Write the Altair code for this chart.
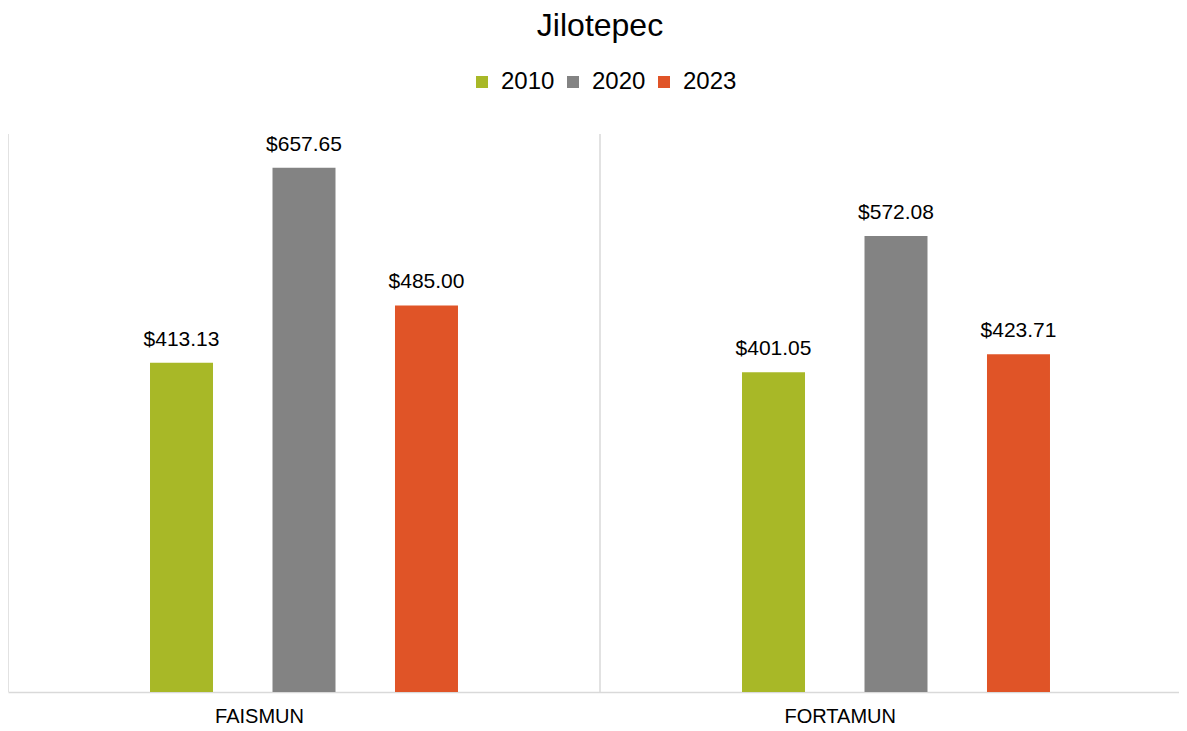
import altair as alt
import pandas as pd

categories = ["FAISMUN", "FORTAMUN"]
years = ["2010", "2020", "2023"]
values_2010 = [413.13, 401.05]
values_2020 = [657.65, 572.08]
values_2023 = [485.00, 423.71]
colors = ["#A8B827", "#838383", "#E05427"]

rows = []
for i, c in enumerate(categories):
    for y, vals in zip(years, [values_2010, values_2020, values_2023]):
        rows.append({"cat": c, "year": y, "value": vals[i]})
df = pd.DataFrame(rows)
cat_df = pd.DataFrame({"cat": categories})

W = 1184
H = 558
FONT = "Liberation Sans"
LINE = "#D9D9D9"

x_enc = alt.X("cat:N", sort=categories,
              scale=alt.Scale(paddingInner=0, paddingOuter=0),
              axis=alt.Axis(title=None, labelAngle=0, labelFontSize=20, labelColor="#000000",
                            labelFont=FONT, ticks=False, labelPadding=24,
                            domainColor=LINE, domainWidth=1.5, grid=False))
xoff = alt.XOffset("year:N", sort=years,
                   scale=alt.Scale(paddingInner=0.167, paddingOuter=1))
y_enc = alt.Y("value:Q", scale=alt.Scale(domain=[0, 700]), axis=None)

bars = alt.Chart(df).mark_bar(width=63).encode(
    x=x_enc, xOffset=xoff, y=y_enc,
    color=alt.Color("year:N", sort=years,
                    scale=alt.Scale(domain=years, range=colors),
                    legend=alt.Legend(title=None, orient="none", direction="horizontal",
                                      legendX=462, legendY=-64,
                                      symbolType="square", symbolSize=144, symbolStrokeWidth=0,
                                      labelFontSize=24, labelFont=FONT, labelColor="#000000",
                                      labelOffset=7, columnPadding=6)),
)

labels = alt.Chart(df).mark_text(baseline="alphabetic", dy=-17, fontSize=21, font=FONT,
                                 color="#000000").encode(
    x=alt.X("cat:N", sort=categories), xOffset=alt.XOffset("year:N", sort=years),
    y="value:Q",
    text=alt.Text("value:Q", format="$,.2f"),
)

seps = alt.Chart(cat_df).mark_rule(color=LINE, strokeWidth=1.5).encode(
    x=alt.X("cat:N", sort=categories, bandPosition=0),
)

chart = alt.layer(seps, bars, labels).properties(
    width=W, height=H,
    background="#FFFFFF",
    autosize=alt.AutoSizeParams(type="none"),
    padding={"left": 0, "right": -13, "top": 126, "bottom": 36},
    title=alt.TitleParams("Jilotepec", fontSize=32, font=FONT, fontWeight="normal",
                          color="#000000", anchor="middle", offset=27),
).configure_view(stroke="transparent", strokeWidth=0)

chart.save("out.html", embed_options={"renderer": "svg", "actions": False})
